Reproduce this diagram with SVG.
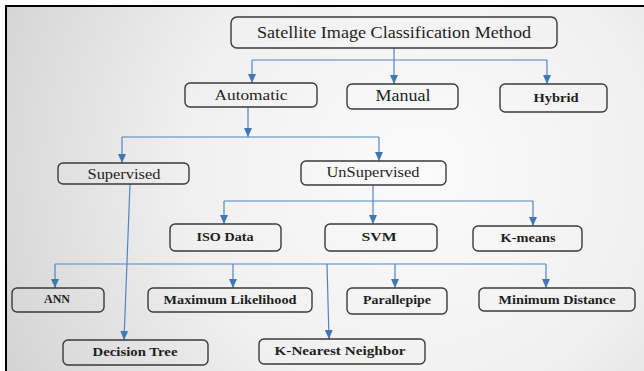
<svg xmlns="http://www.w3.org/2000/svg" width="644" height="371" viewBox="0 0 644 371">
  <defs>
    <radialGradient id="bg" cx="420" cy="170" r="470" gradientUnits="userSpaceOnUse">
      <stop offset="0" stop-color="#fbfbfb"/>
      <stop offset="0.5" stop-color="#f0f0f0"/>
      <stop offset="1" stop-color="#d2d2d2"/>
    </radialGradient>
    <marker id="arr" markerUnits="userSpaceOnUse" markerWidth="9" markerHeight="8" viewBox="0 0 9 8" refX="9" refY="4" orient="auto">
      <path d="M0,0 L9,4 L0,8 Z" fill="#3f78b4"/>
    </marker>
  </defs>
  <style>
    .box { fill: none; stroke: #3a3a3a; stroke-width: 1.4; }
    .t { fill: #1e1e1e; text-anchor: middle; }
    .b { font-weight: bold; }
    .c { fill: none; stroke: #4f86c0; stroke-width: 1.2; }
    .a { marker-end: url(#arr); }
  </style>
  <rect x="0" y="0" width="644" height="371" fill="#ffffff"/>
  <rect x="6" y="6" width="638" height="365" fill="url(#bg)"/>
  <path d="M5,6 H644 M6,5 V371" stroke="#000" stroke-width="2" fill="none"/>

  <g id="connectors">
    <path class="c" d="M394,48 V60 M252,60 H547"/>
    <path class="c a" d="M252,60 V83"/>
    <path class="c a" d="M394,60 V84"/>
    <path class="c a" d="M547,60 V84"/>
    <path class="c a" d="M248,107 V137"/>
    <path class="c" d="M122,137 H379"/>
    <path class="c a" d="M122,137 V163"/>
    <path class="c a" d="M379,137 V161"/>
    <path class="c a" d="M130,184 L124,340"/>
    <path class="c a" d="M373,185 V224"/>
    <path class="c" d="M224,201 H533"/>
    <path class="c a" d="M224,201 V224"/>
    <path class="c a" d="M533,201 V226"/>
    <path class="c" d="M55,264 H546"/>
    <path class="c a" d="M55,264 V288"/>
    <path class="c a" d="M233,264 V288"/>
    <path class="c a" d="M395,264 V288"/>
    <path class="c a" d="M546,264 V288"/>
    <path class="c a" d="M327,264 L329,339"/>
  </g>

  <g font-family="'Liberation Serif', 'DejaVu Serif', 'Times New Roman', serif">
  <g id="title">
    <rect class="box" x="231" y="17" width="326" height="31" rx="6"/>
    <text class="t" x="394" y="38" font-size="17" textLength="274" lengthAdjust="spacingAndGlyphs">Satellite Image Classification Method</text>
  </g>
  <g id="automatic">
    <rect class="box" x="185" y="83" width="132" height="24" rx="5"/>
    <text class="t" x="251" y="100" font-size="15" textLength="73" lengthAdjust="spacingAndGlyphs">Automatic</text>
  </g>
  <g id="manual">
    <rect class="box" x="347" y="84" width="111" height="25" rx="5"/>
    <text class="t" x="403" y="101" font-size="16" textLength="55" lengthAdjust="spacingAndGlyphs">Manual</text>
  </g>
  <g id="hybrid">
    <rect class="box" x="500" y="84" width="107" height="28" rx="5"/>
    <text class="t b" x="556" y="102" font-size="13" textLength="45" lengthAdjust="spacingAndGlyphs">Hybrid</text>
  </g>
  <g id="supervised">
    <rect class="box" x="58" y="163" width="131" height="21" rx="5"/>
    <text class="t" x="124" y="179" font-size="14" textLength="73" lengthAdjust="spacingAndGlyphs">Supervised</text>
  </g>
  <g id="unsupervised">
    <rect class="box" x="301" y="161" width="145" height="24" rx="5"/>
    <text class="t" x="373" y="177" font-size="14" textLength="93" lengthAdjust="spacingAndGlyphs">UnSupervised</text>
  </g>
  <g id="isodata">
    <rect class="box" x="170" y="224" width="111" height="27" rx="5"/>
    <text class="t b" x="225" y="241" font-size="13" textLength="57" lengthAdjust="spacingAndGlyphs">ISO Data</text>
  </g>
  <g id="svm">
    <rect class="box" x="325" y="224" width="112" height="27" rx="5"/>
    <text class="t b" x="379" y="241" font-size="13" textLength="35" lengthAdjust="spacingAndGlyphs">SVM</text>
  </g>
  <g id="kmeans">
    <rect class="box" x="473" y="226" width="109" height="25" rx="5"/>
    <text class="t b" x="528" y="242" font-size="13" textLength="55" lengthAdjust="spacingAndGlyphs">K-means</text>
  </g>
  <g id="ann">
    <rect class="box" x="12" y="288" width="92" height="24" rx="5"/>
    <text class="t b" x="57" y="303" font-size="13" textLength="26" lengthAdjust="spacingAndGlyphs">ANN</text>
  </g>
  <g id="maxlikelihood">
    <rect class="box" x="148" y="288" width="164" height="24" rx="5"/>
    <text class="t b" x="230" y="304" font-size="13" textLength="133" lengthAdjust="spacingAndGlyphs">Maximum Likelihood</text>
  </g>
  <g id="parallepipe">
    <rect class="box" x="347" y="288" width="100" height="26" rx="5"/>
    <text class="t b" x="397" y="304" font-size="13" textLength="68" lengthAdjust="spacingAndGlyphs">Parallepipe</text>
  </g>
  <g id="mindistance">
    <rect class="box" x="479" y="288" width="156" height="23" rx="5"/>
    <text class="t b" x="557" y="304" font-size="13" textLength="117" lengthAdjust="spacingAndGlyphs">Minimum Distance</text>
  </g>
  <g id="decisiontree">
    <rect class="box" x="63" y="340" width="145" height="25" rx="5"/>
    <text class="t b" x="135" y="356" font-size="13" textLength="85" lengthAdjust="spacingAndGlyphs">Decision Tree</text>
  </g>
  <g id="knn">
    <rect class="box" x="259" y="339" width="166" height="25" rx="5"/>
    <text class="t b" x="340" y="355" font-size="13" textLength="131" lengthAdjust="spacingAndGlyphs">K-Nearest Neighbor</text>
  </g>
  </g>
</svg>
